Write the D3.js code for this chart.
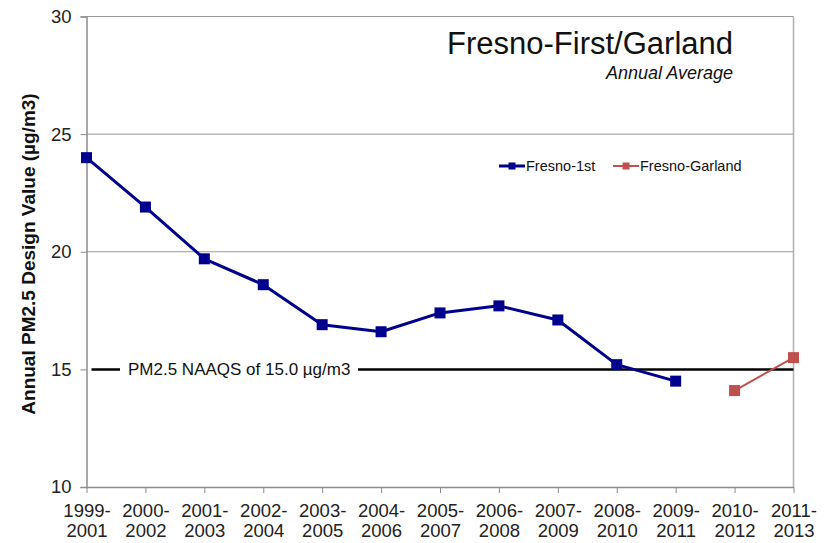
<!DOCTYPE html>
<html>
<head>
<meta charset="utf-8">
<script src="https://cdn.jsdelivr.net/npm/d3@7/dist/d3.min.js"></script>
<style>
  html, body { margin: 0; padding: 0; background: #fff; }
  svg { display: block; font-family: "Liberation Sans", Arial, sans-serif; }
</style>
</head>
<body>
<svg id="chart" width="829" height="543"></svg>
<script>
const categories = ["1999-2001","2000-2002","2001-2003","2002-2004","2003-2005","2004-2006",
  "2005-2007","2006-2008","2007-2009","2008-2010","2009-2011","2010-2012","2011-2013"];
const fresno1st = [24.0, 21.9, 19.7, 18.6, 16.9, 16.6, 17.4, 17.7, 17.1, 15.2, 14.5, null, null];
const fresnoGarland = [null, null, null, null, null, null, null, null, null, null, null, 14.1, 15.5];
const yTicks = [10, 15, 20, 25, 30];
const gridValues = [20, 25];
const naaqs = 15.0;
const naaqsLabel = "PM2.5 NAAQS of 15.0 \u00b5g/m3";
const titleText = "Fresno-First/Garland";
const subtitleText = "Annual Average";
const yLabel = "Annual PM2.5 Design Value (\u00b5g/m3)";
const seriesNames = ["Fresno-1st", "Fresno-Garland"];

const svg = d3.select("#chart");
const mLeft = 86.5, mRight = 793.5, mTop = 16.5, mBottom = 487;
const x = d3.scalePoint().domain(categories).range([mLeft, mRight]);
const y = d3.scaleLinear().domain([10, 30]).range([mBottom, mTop]);

const gray = "#8c8c8c";

// gridlines
svg.append("g").selectAll("line").data(gridValues).join("line")
  .attr("x1", mLeft).attr("x2", mRight)
  .attr("y1", d => y(d)).attr("y2", d => y(d))
  .attr("stroke", "#9a9a9a").attr("stroke-width", 1);

// top and right frame
svg.append("line").attr("x1", mLeft).attr("x2", mRight).attr("y1", y(30)).attr("y2", y(30))
  .attr("stroke", "#9a9a9a").attr("stroke-width", 1);
svg.append("line").attr("x1", mRight).attr("x2", mRight).attr("y1", mTop).attr("y2", mBottom)
  .attr("stroke", "#b0b0b0").attr("stroke-width", 1.5);

// y axis
const yAxis = svg.append("g").attr("transform", `translate(${mLeft},0)`)
  .call(d3.axisLeft(y).tickValues(yTicks).tickSize(6).tickPadding(9).tickFormat(d3.format("d")));
yAxis.select(".domain").attr("stroke", gray).attr("stroke-width", 1.5);
yAxis.selectAll(".tick line").attr("stroke", gray);
yAxis.selectAll(".tick text").attr("font-size", "18.5px").attr("fill", "#222")
  .attr("font-family", "Liberation Sans, Arial, sans-serif");

// x axis
const xAxis = svg.append("g").attr("transform", `translate(0,${mBottom})`)
  .call(d3.axisBottom(x).tickSize(6).tickSizeOuter(0));
xAxis.select(".domain").attr("stroke", gray).attr("stroke-width", 1.5);
xAxis.selectAll(".tick line").attr("stroke", gray);
xAxis.selectAll(".tick text").remove();
xAxis.selectAll(".tick").each(function(d) {
  const parts = d.split("-");
  const t = d3.select(this).append("text")
    .attr("text-anchor", "middle").attr("fill", "#222")
    .attr("font-size", "18.5px").attr("font-family", "Liberation Sans, Arial, sans-serif");
  t.append("tspan").attr("x", 0).attr("y", 30).text(parts[0] + "-");
  t.append("tspan").attr("x", 0).attr("y", 50).text(parts[1]);
});

// NAAQS line
svg.append("line")
  .attr("x1", mLeft + 5).attr("x2", mRight)
  .attr("y1", y(naaqs)).attr("y2", y(naaqs))
  .attr("stroke", "#000").attr("stroke-width", 2.5);
svg.append("rect").attr("x", 120).attr("y", y(naaqs) - 10).attr("width", 238).attr("height", 20)
  .attr("fill", "#fff");
svg.append("text").attr("x", 128).attr("y", y(naaqs) + 6)
  .attr("font-size", "17px").attr("fill", "#111").text(naaqsLabel);

// series
const blue = "#00008f", red = "#c0504d";
function drawSeries(vals, color, width, size) {
  const pts = categories.map((c, i) => ({c, v: vals[i]})).filter(d => d.v !== null);
  const line = d3.line().x(d => x(d.c)).y(d => y(d.v));
  svg.append("path").datum(pts).attr("d", line)
    .attr("fill", "none").attr("stroke", color).attr("stroke-width", width)
    .attr("stroke-linejoin", "round");
  svg.append("g").selectAll("rect").data(pts).join("rect")
    .attr("x", d => x(d.c) - size / 2).attr("y", d => y(d.v) - size / 2)
    .attr("width", size).attr("height", size).attr("fill", color);
}
drawSeries(fresno1st, blue, 3, 11);
drawSeries(fresnoGarland, red, 2, 11);

// title
svg.append("text").attr("x", 733).attr("y", 54).attr("text-anchor", "end")
  .attr("font-size", "31px").attr("fill", "#111").text(titleText);
svg.append("text").attr("x", 733).attr("y", 79).attr("text-anchor", "end")
  .attr("font-size", "18px").attr("font-style", "italic").attr("fill", "#111").text(subtitleText);

// legend
const legend = [
  {name: seriesNames[0], color: blue, x0: 499, w: 3},
  {name: seriesNames[1], color: red, x0: 613, w: 2}
];
const ly = 166;
legend.forEach(l => {
  svg.append("line").attr("x1", l.x0).attr("x2", l.x0 + 26).attr("y1", ly).attr("y2", ly)
    .attr("stroke", l.color).attr("stroke-width", l.w);
  svg.append("rect").attr("x", l.x0 + 13 - 3.5).attr("y", ly - 3.5).attr("width", 7).attr("height", 7)
    .attr("fill", l.color);
  svg.append("text").attr("x", l.x0 + 27).attr("y", ly + 5)
    .attr("font-size", "14.5px").attr("fill", "#111").text(l.name);
});

// y label
svg.append("text").attr("transform", "translate(35,254) rotate(-90)")
  .attr("text-anchor", "middle").attr("font-size", "19px").attr("font-weight", "bold")
  .attr("fill", "#111").text(yLabel);
</script>
</body>
</html>
